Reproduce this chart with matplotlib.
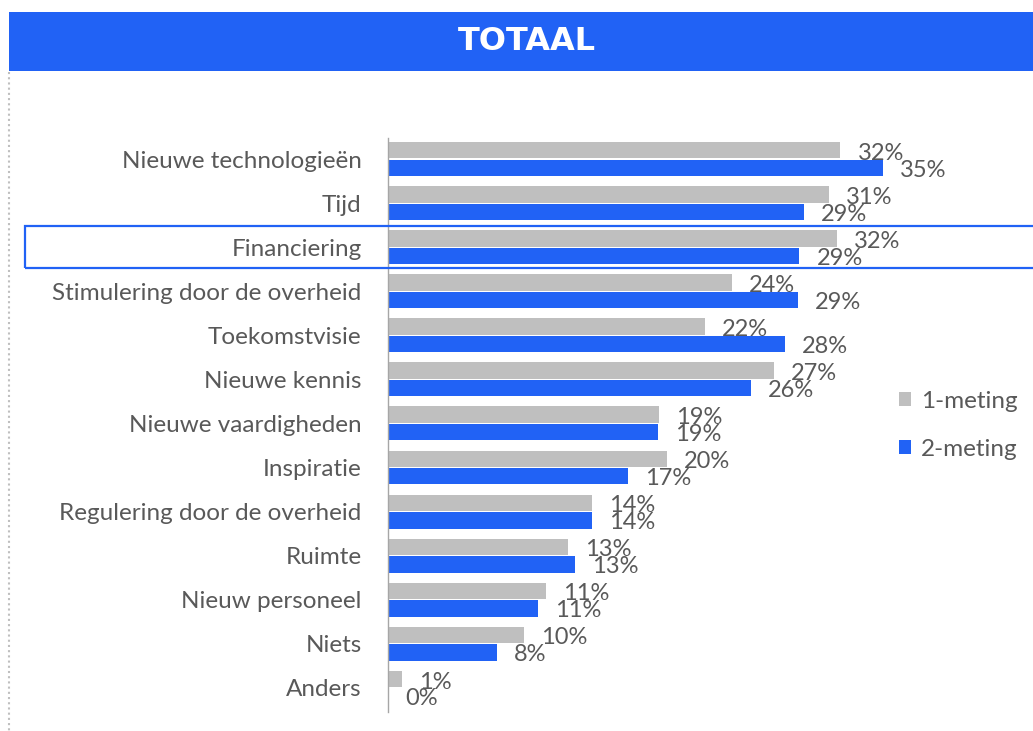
import numpy as np
import matplotlib.pyplot as plt
from matplotlib.patches import Rectangle

# Data (percent)
categories = ['Nieuwe technologieën', 'Tijd', 'Financiering',
              'Stimulering door de overheid', 'Toekomstvisie', 'Nieuwe kennis',
              'Nieuwe vaardigheden', 'Inspiratie', 'Regulering door de overheid',
              'Ruimte', 'Nieuw personeel', 'Niets', 'Anders']
meting1 = [32.0, 31.2, 31.75, 24.3, 22.4, 27.3, 19.2, 19.7, 14.4, 12.7, 11.2, 9.6, 1.0]
meting2 = [35.0, 29.4, 29.1, 29.0, 28.1, 25.7, 19.1, 17.0, 14.4, 13.2, 10.6, 7.7, 0.0]
series_names = ['1-meting', '2-meting']

GREY = '#BFBFBF'
BLUE = '#2162F5'
TXT = '#595959'

plt.rcParams['font.family'] = ['Lato', 'DejaVu Sans']

W, H = 1033, 731
fig = plt.figure(figsize=(W / 100, H / 100), dpi=100)

# header band
fig.patches.append(Rectangle((9 / W, 1 - 71 / H), 1, 59 / H, transform=fig.transFigure,
                             facecolor=BLUE, edgecolor='none', zorder=0))
fig.text(527 / W, 1 - 41 / H, 'TOTAAL', color='white', fontsize=23, fontweight='bold',
         family=['DejaVu Sans'], ha='center', va='center')
# dotted frame line on the left
fig.add_artist(plt.Line2D([9 / W, 9 / W], [1 - 72 / H, 0], transform=fig.transFigure,
                          color='#BFBFBF', lw=1.5, ls=(0, (1, 1.5))))

# axes: left edge at x=388, rows from y=138 to 712
ax = fig.add_axes([388 / W, 1 - 712 / H, (W - 388) / W, (712 - 138) / H])
y = np.arange(len(categories))
h = 0.37
ax.barh(y - 0.2, meting1, height=h, color=GREY, label=series_names[0], zorder=2)
ax.barh(y + 0.2, meting2, height=h, color=BLUE, label=series_names[1], zorder=2)

ax.set_xlim(0, (W - 388) / 14.14)
ax.set_ylim(len(categories) - 0.45, -0.48)

for i in range(len(categories)):
    ax.text(meting1[i] + 1.2, y[i] - 0.13, '%.0f%%' % meting1[i], color=TXT,
            fontsize=17, va='center', ha='left')
    ax.text(meting2[i] + 1.2, y[i] + 0.25, '%.0f%%' % meting2[i], color=TXT,
            fontsize=17, va='center', ha='left')

ax.set_yticks(y)
ax.set_yticklabels(categories, fontsize=17.5, color=TXT)
ax.tick_params(axis='y', length=0, pad=19)
ax.set_xticks([])
for s in ['top', 'right', 'bottom']:
    ax.spines[s].set_visible(False)
ax.spines['left'].set_color('#A6A6A6')
ax.spines['left'].set_linewidth(1)

# highlight box around Financiering
fig.add_artist(Rectangle((25 / W, 1 - 268 / H), 1, 42 / H, transform=fig.transFigure,
                         facecolor='none', edgecolor=BLUE, lw=1.6, zorder=5))

fig.legend(loc='upper left', bbox_to_anchor=(877 / W, 1 - 369 / H), frameon=False,
           fontsize=17.5, labelcolor=TXT, handlelength=0.5, handleheight=0.5,
           handletextpad=0.4, labelspacing=1.1)

fig.savefig('out.png', dpi=100)
